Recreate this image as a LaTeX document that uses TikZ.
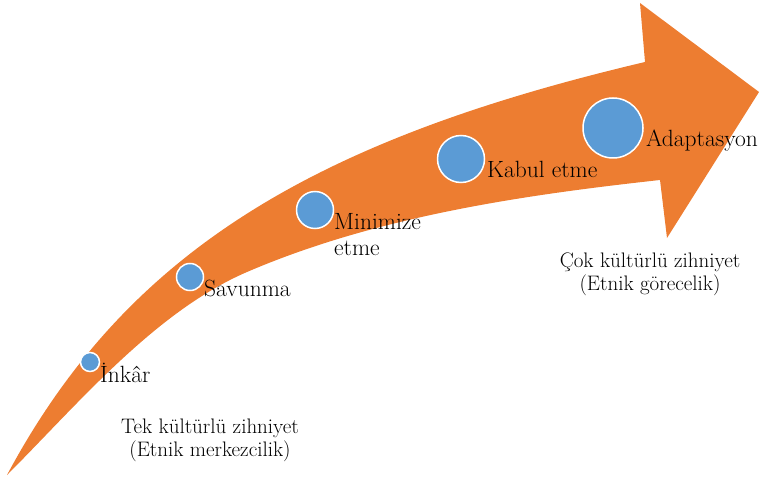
\documentclass[tikz,border=0pt]{standalone}
\usepackage{fontspec}
\usepackage{tikz}
\definecolor{arroworange}{HTML}{ED7D31}
\definecolor{stageblue}{HTML}{5B9BD5}

\begin{document}
\begin{tikzpicture}[
x=1pt, y=-1pt,
stage/.style={
	circle, fill=stageblue, draw=white,
	line width=1.5pt, inner sep=0pt
},
lbl/.style={inner sep=0pt, anchor=base west, font=\fontsize{23.5}{26}\selectfont},
mind/.style={inner sep=0pt, anchor=north, align=center, font=\fontsize{21}{23}\selectfont}
]
\useasboundingbox (0,0) rectangle (759,478);
% the curved arrow
\fill[arroworange] (7,475)
	.. controls (127,251) and (314,140) .. (645,62)
	-- (640,3) -- (759,92) -- (667,238) -- (660,180)
	.. controls (520.8,195.3) and (375.7,216.7) .. (247,272)
	.. controls (155.1,311.5) and (77.7,404.3) .. (7,475)
	-- cycle;
% stages
\node[stage, minimum size=19pt] (inkar) at (90,362) {};
\node[stage, minimum size=27pt] (savunma) at (190,277) {};
\node[stage, minimum size=37pt] (minimize) at (315,210) {};
\node[stage, minimum size=47pt] (kabul) at (461,159) {};
\node[stage, minimum size=60pt] (adaptasyon) at (613,128) {};
\node[lbl] (inkarlbl) at (100,382) {İnkâr};
\node[lbl] (savunmalbl) at (204,296) {Savunma};
\node[lbl, anchor=north west, align=left] (minimizelbl) at (334,213) {Minimize\\etme};
\node[lbl] (kabullbl) at (487,178) {Kabul etme};
\node[lbl] (adaptasyonlbl) at (646,147) {Adaptasyon};
% mindsets
\node[mind] (tek) at (210,419) {Tek kültürlü zihniyet\\(Etnik merkezcilik)};
\node[mind] (cok) at (650,253) {Çok kültürlü zihniyet\\(Etnik görecelik)};
\end{tikzpicture}
\end{document}
